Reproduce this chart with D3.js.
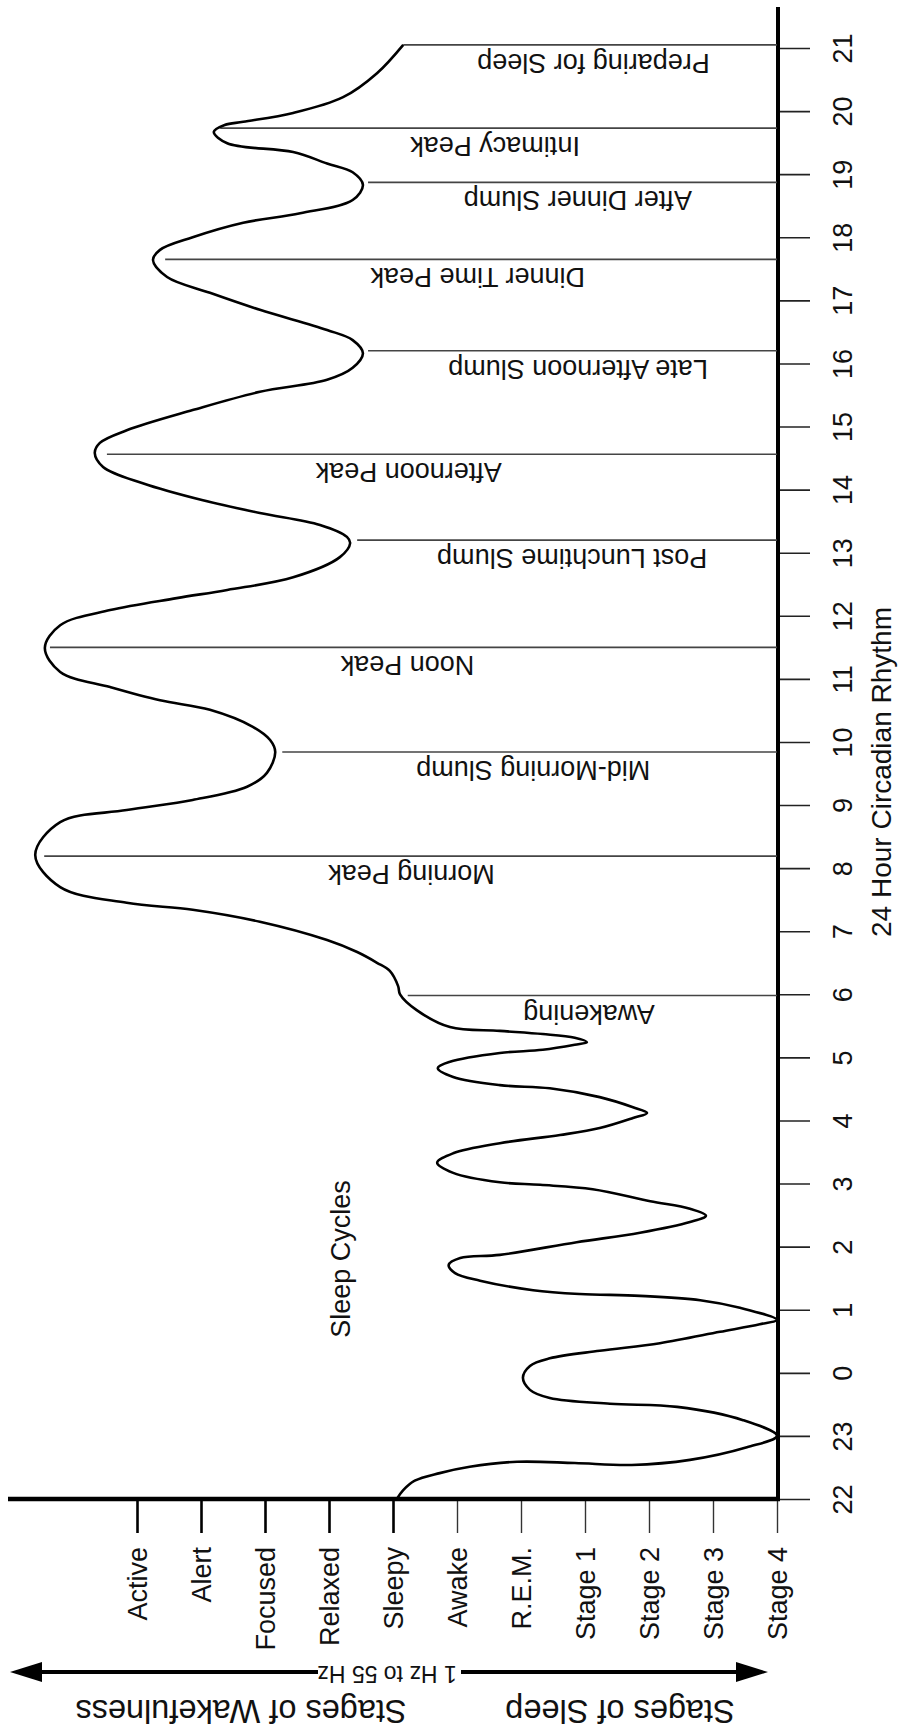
<!DOCTYPE html>
<html><head><meta charset="utf-8">
<script src="https://cdn.jsdelivr.net/npm/d3@7"></script>
<style>
body{margin:0;background:#fff}
svg{display:block}
text{font-family:"Liberation Sans",Arial,Helvetica,sans-serif;fill:#111}
</style>
</head><body><div id="chart"></div>
<script>
// ---- data ----
const hourLabels = [22,23,0,1,2,3,4,5,6,7,8,9,10,11,12,13,14,15,16,17,18,19,20,21];
const stageLabels = ["Stage 4","Stage 3","Stage 2","Stage 1","R.E.M.","Awake","Sleepy","Relaxed","Focused","Alert","Active"];
// curve: elapsed hours since 22:00, stage level (0 = Stage 4 ... 10 = Active)
const curveHours = [0.00,0.14,0.29,0.41,0.51,0.59,0.57,0.54,0.62,0.82,1.00,1.25,1.46,1.51,1.60,1.73,1.92,2.11,2.23,2.35,2.47,2.65,2.77,2.84,
  3.03,3.15,3.22,3.25,3.31,3.46,3.58,3.71,3.82,3.87,4.07,4.22,4.39,4.49,4.60,4.72,4.91,4.98,5.02,5.17,5.33,5.48,5.64,5.77,5.88,6.04,6.12,
  6.21,6.37,6.51,6.56,6.69,6.83,6.93,7.07,7.12,7.20,7.24,7.31,7.37,7.42,7.48,7.75,8.00,8.13,8.37,8.50,8.67,8.86,9.15,9.34,9.45,9.70,10.21,
  10.73,10.92,11.08,11.29,11.51,11.84,12.03,12.24,12.51,12.66,12.87,13.11,13.49,13.85,14.09,14.28,14.41,14.61,14.93,15.15,15.25,15.44,15.63,
  15.83,16.10,16.36,16.58,16.74,16.94,17.26,17.55,17.74,17.93,18.16,18.37,18.53,18.85,19.12,19.37,19.64,19.80,20.00,20.23,20.38,20.59,20.83,
  21.03,21.17,21.35,21.49,21.67,21.78,21.83,21.97,22.22,22.60,23.05];
const curveStages = [5.94,5.84,5.66,5.27,4.80,4.06,3.16,2.27,1.36,0.47,0.00,0.53,1.56,2.61,3.55,3.86,3.97,3.86,3.55,2.77,1.83,0.89,0.27,0.00,
  0.58,1.20,2.14,3.08,3.81,4.64,5.03,5.13,4.95,4.33,3.13,2.14,1.36,1.11,1.36,1.98,2.88,3.70,4.33,5.06,5.31,5.06,4.33,3.39,2.77,2.25,2.03,
  2.25,2.77,3.55,4.33,5.06,5.30,5.11,4.33,3.66,3.16,2.97,3.16,3.66,4.33,5.11,5.63,5.89,5.92,6.05,6.25,6.56,7.03,8.08,9.13,10.16,11.20,11.59,
  11.20,10.16,9.13,8.28,7.97,7.84,7.92,8.19,8.86,9.64,10.42,11.20,11.44,11.20,10.42,9.38,8.59,7.56,6.83,6.67,6.72,7.14,8.08,
  8.97,9.91,10.53,10.66,10.58,10.16,9.13,8.08,7.03,6.63,6.47,6.63,7.03,8.08,8.86,9.53,9.75,9.64,9.13,8.34,7.45,6.63,6.47,
  6.63,7.03,7.56,8.59,8.80,8.63,8.34,7.56,6.78,6.25,5.84];
const annotationLabels = ["Awakening","Morning Peak","Mid-Morning Slump","Noon Peak","Post Lunchtime Slump","Afternoon Peak",
  "Late Afternoon Slump","Dinner Time Peak","After Dinner Slump","Intimacy Peak","Preparing for Sleep"];
const annotationHours = [7.98,10.19,11.84,13.50,15.20,16.56,18.20,19.65,20.87,21.73,23.05];
const annotationFrom = [5.77,11.45,7.73,11.36,6.56,10.47,6.39,9.56,6.39,8.70,5.84];   // stage level where pointer starts
const annotationText = [1.91,4.41,1.98,4.73,1.09,4.30,1.08,3.00,1.33,3.08,1.05];      // stage level where text starts

// ---- layout ----
const W = 901, H = 1731;
const font = '"Liberation Sans",Arial,Helvetica,sans-serif';
const svg = d3.select("#chart").append("svg").attr("width", W).attr("height", H);
const y = d3.scaleLinear().domain([0, 23]).range([1499, 48]);
const x = d3.scaleLinear().domain([0, 10]).range([777, 137]);
const axisX = x(0), axisY = y(0);

// hour axis (right side)
const gy = svg.append("g").attr("transform", `translate(${axisX},0)`)
  .call(d3.axisRight(y).tickValues(d3.range(24)).tickFormat(i => hourLabels[i]).tickSize(33).tickSizeOuter(0));
gy.select(".domain").remove();
gy.selectAll(".tick line").attr("stroke", "#222").attr("stroke-width", 1.6);
gy.selectAll(".tick text")
  .attr("x", null).attr("dy", null)
  .attr("transform", "translate(75,0) rotate(-90)")
  .attr("text-anchor", "middle")
  .style("font-family", font).style("font-size", "27px").attr("fill", "#111");

// stage axis (bottom)
const gx = svg.append("g").attr("transform", `translate(0,${axisY})`)
  .call(d3.axisBottom(x).tickValues(d3.range(11)).tickFormat(i => stageLabels[i]).tickSize(34).tickSizeOuter(0));
gx.select(".domain").remove();
gx.selectAll(".tick line")
  .attr("stroke", (d) => d >= 6 ? "#000" : "#333")
  .attr("stroke-width", (d) => d >= 6 ? 2.6 : 1.4);
gx.selectAll(".tick text")
  .attr("y", null).attr("dy", "0.35em")
  .attr("transform", "translate(0,48) rotate(-90)")
  .attr("text-anchor", "end")
  .style("font-family", font).style("font-size", "27px").attr("fill", "#111");

// main axis lines
svg.append("line").attr("x1", axisX + 1).attr("x2", axisX + 1).attr("y1", 7).attr("y2", axisY + 2)
  .attr("stroke", "#000").attr("stroke-width", 4);
svg.append("line").attr("x1", 8).attr("x2", axisX + 3).attr("y1", axisY).attr("y2", axisY)
  .attr("stroke", "#000").attr("stroke-width", 4.5);

// annotation pointers + labels
const ann = svg.append("g").selectAll("g").data(annotationLabels).join("g");
ann.append("line")
  .attr("x1", (d, i) => x(annotationFrom[i])).attr("x2", axisX)
  .attr("y1", (d, i) => y(annotationHours[i])).attr("y2", (d, i) => y(annotationHours[i]))
  .attr("stroke", "#444").attr("stroke-width", 1.6);
ann.append("text")
  .attr("transform", (d, i) => `translate(${x(annotationText[i])},${y(annotationHours[i]) + 9}) rotate(180)`)
  .attr("text-anchor", "start")
  .style("font-size", "27px")
  .text(d => d);

// curve
const pts = curveHours.map((t, i) => ({t, v: curveStages[i]}));
svg.append("path").datum(pts)
  .attr("d", d3.line().x(d => x(d.v)).y(d => y(d.t)).curve(d3.curveCatmullRom.alpha(0.5)))
  .attr("fill", "none").attr("stroke", "#000").attr("stroke-width", 2.6).attr("stroke-linejoin", "round");

// other texts
svg.append("text").attr("transform", "translate(350,1259) rotate(-90)")
  .attr("text-anchor", "middle").style("font-size", "27px").text("Sleep Cycles");
svg.append("text").attr("transform", "translate(891,772) rotate(-90)")
  .attr("text-anchor", "middle").style("font-size", "28px").text("24 Hour Circadian Rhythm");

// double arrow
const ay = 1672;
svg.append("line").attr("x1", 40).attr("x2", 318).attr("y1", ay).attr("y2", ay).attr("stroke", "#000").attr("stroke-width", 4);
svg.append("line").attr("x1", 461).attr("x2", 740).attr("y1", ay).attr("y2", ay).attr("stroke", "#000").attr("stroke-width", 4);
svg.append("path").attr("d", `M10,${ay} L42,${ay - 10} L42,${ay + 10} Z`).attr("fill", "#000");
svg.append("path").attr("d", `M768,${ay} L736,${ay - 10} L736,${ay + 10} Z`).attr("fill", "#000");
svg.append("text").attr("transform", `translate(387,${ay - 6}) rotate(180)`)
  .attr("text-anchor", "middle").style("font-size", "23px").text("1 Hz to 55 Hz");
svg.append("text").attr("transform", "translate(241,1700) rotate(180)")
  .attr("text-anchor", "middle").style("font-size", "32.5px").text("Stages of Wakefulness");
svg.append("text").attr("transform", "translate(620,1700) rotate(180)")
  .attr("text-anchor", "middle").style("font-size", "32.5px").text("Stages of Sleep");
</script>
</body></html>
